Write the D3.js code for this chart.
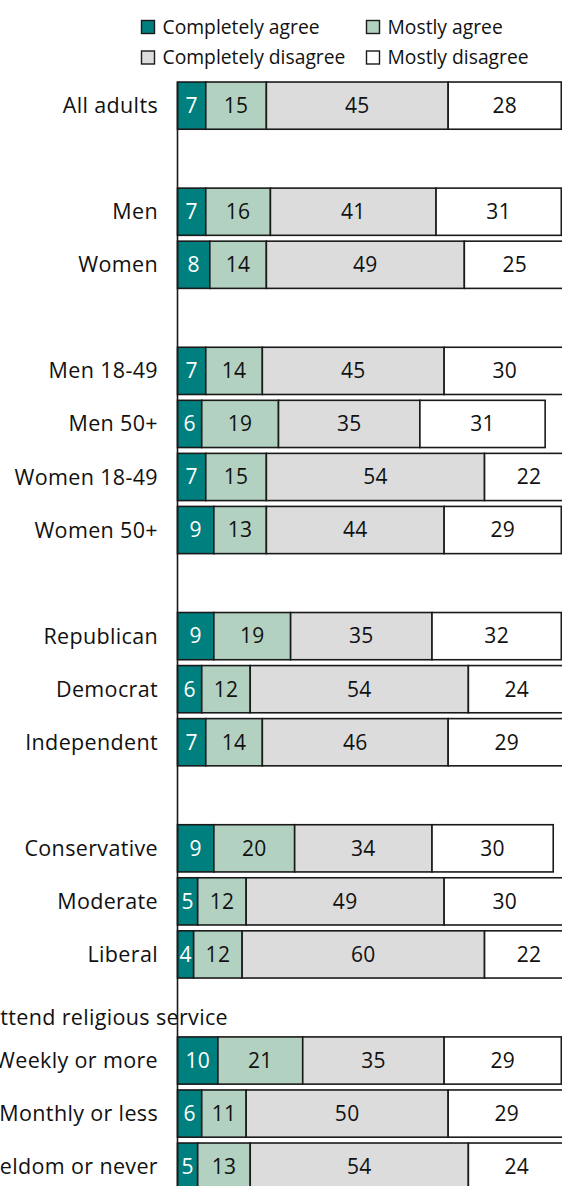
<!DOCTYPE html>
<html>
<head>
<meta charset="utf-8">
<script src="https://cdn.jsdelivr.net/npm/d3@7"></script>
<style>
  html, body { margin: 0; padding: 0; background: #fff; overflow: hidden; }
  svg { display: block; font-family: "Open Sans", "Noto Sans", sans-serif; }
</style>
</head>
<body>
<script>
// ---- Data ----
const categories = ["All adults", "Men", "Women", "Men 18-49", "Men 50+", "Women 18-49", "Women 50+",
  "Republican", "Democrat", "Independent", "Conservative", "Moderate", "Liberal",
  "Weekly or more", "Monthly or less", "Seldom or never"];
const completelyAgree    = [7, 7, 8, 7, 6, 7, 9, 9, 6, 7, 9, 5, 4, 10, 6, 5];
const mostlyAgree        = [15, 16, 14, 14, 19, 15, 13, 19, 12, 14, 20, 12, 12, 21, 11, 13];
const completelyDisagree = [45, 41, 49, 45, 35, 54, 44, 35, 54, 46, 34, 49, 60, 35, 50, 54];
const mostlyDisagree     = [28, 31, 25, 30, 31, 22, 29, 32, 24, 29, 30, 30, 22, 29, 29, 24];
const seriesNames = ["Completely agree", "Mostly agree", "Completely disagree", "Mostly disagree"];
const groupHeader = "Attend religious service";
// row layout (blank slots separate groups)
const rowOrder = ["All adults", "_g1", "Men", "Women", "_g2", "Men 18-49", "Men 50+", "Women 18-49", "Women 50+",
  "_g3", "Republican", "Democrat", "Independent", "_g4", "Conservative", "Moderate", "Liberal",
  groupHeader, "Weekly or more", "Monthly or less", "Seldom or never"];

// ---- Setup ----
const W = 562, H = 1186;
const svg = d3.select("body").append("svg").attr("width", W).attr("height", H);

const colors = ["#007f7f", "#b3d1c1", "#dcdcdc", "#ffffff"];
const textColors = ["#ffffff", "#111111", "#111111", "#111111"];
const stroke = "#1a1a1a";

const x = d3.scaleLinear().domain([0, 100]).range([177.5, 581.5]);
const y = d3.scaleBand().domain(rowOrder).range([79.5, 79.5 + 21 * 53.05])
  .paddingInner(0.095).paddingOuter(0.0475);
const barH = y.bandwidth() - 0.8;

const rows = categories.map((c, i) => {
  const vals = [completelyAgree[i], mostlyAgree[i], completelyDisagree[i], mostlyDisagree[i]];
  let acc = 0;
  const segs = vals.map((v, k) => { const s = { k, v, x0: acc, x1: acc + v }; acc += v; return s; });
  return { cat: c, segs };
});

// ---- Bars ----
const g = svg.append("g");
const rowG = g.selectAll("g.row").data(rows).join("g").attr("class", "row")
  .attr("transform", d => `translate(0,${y(d.cat)})`);

rowG.selectAll("rect").data(d => d.segs).join("rect")
  .attr("x", s => x(s.x0))
  .attr("y", 0)
  .attr("width", s => x(s.x1) - x(s.x0))
  .attr("height", barH)
  .attr("fill", s => colors[s.k])
  .attr("stroke", stroke)
  .attr("stroke-width", 1.6);

rowG.selectAll("text.val").data(d => d.segs).join("text").attr("class", "val")
  .attr("x", s => (x(s.x0) + x(s.x1)) / 2)
  .attr("y", barH / 2)
  .attr("dy", "0.35em")
  .attr("text-anchor", "middle")
  .attr("font-size", 21)
  .attr("letter-spacing", 0.3)
  .attr("fill", s => textColors[s.k])
  .text(s => s.v);

// ---- Category labels ----
g.selectAll("text.lab").data(categories).join("text").attr("class", "lab")
  .attr("x", 158)
  .attr("y", d => y(d) + barH / 2)
  .attr("dy", "0.35em")
  .attr("text-anchor", "end")
  .attr("font-size", 21.5)
  .attr("letter-spacing", 0.35)
  .attr("fill", "#111")
  .text(d => d);

// group header
g.append("text")
  .attr("x", 228)
  .attr("y", y(groupHeader) + y.bandwidth() - 7)
  .attr("text-anchor", "end")
  .attr("font-size", 21.5)
  .attr("letter-spacing", 0.35)
  .attr("fill", "#111")
  .text(groupHeader);

// ---- Axis line ----
g.append("line")
  .attr("x1", x(0)).attr("x2", x(0))
  .attr("y1", y(rowOrder[0])).attr("y2", H)
  .attr("stroke", stroke).attr("stroke-width", 1.6);

// ---- Legend ----
const legendPos = [[141.5, 20.5], [366.5, 20.5], [141.5, 51], [366.5, 51]];
const lg = svg.append("g").selectAll("g").data(seriesNames).join("g")
  .attr("transform", (d, i) => `translate(${legendPos[i][0]},${legendPos[i][1]})`);
lg.append("rect").attr("width", 13).attr("height", 13)
  .attr("fill", (d, i) => colors[i]).attr("stroke", stroke).attr("stroke-width", 1.4);
lg.append("text").attr("x", 21).attr("y", 6.5).attr("dy", "0.35em")
  .attr("font-size", 19.3).attr("fill", "#111").text(d => d);
</script>
</body>
</html>
